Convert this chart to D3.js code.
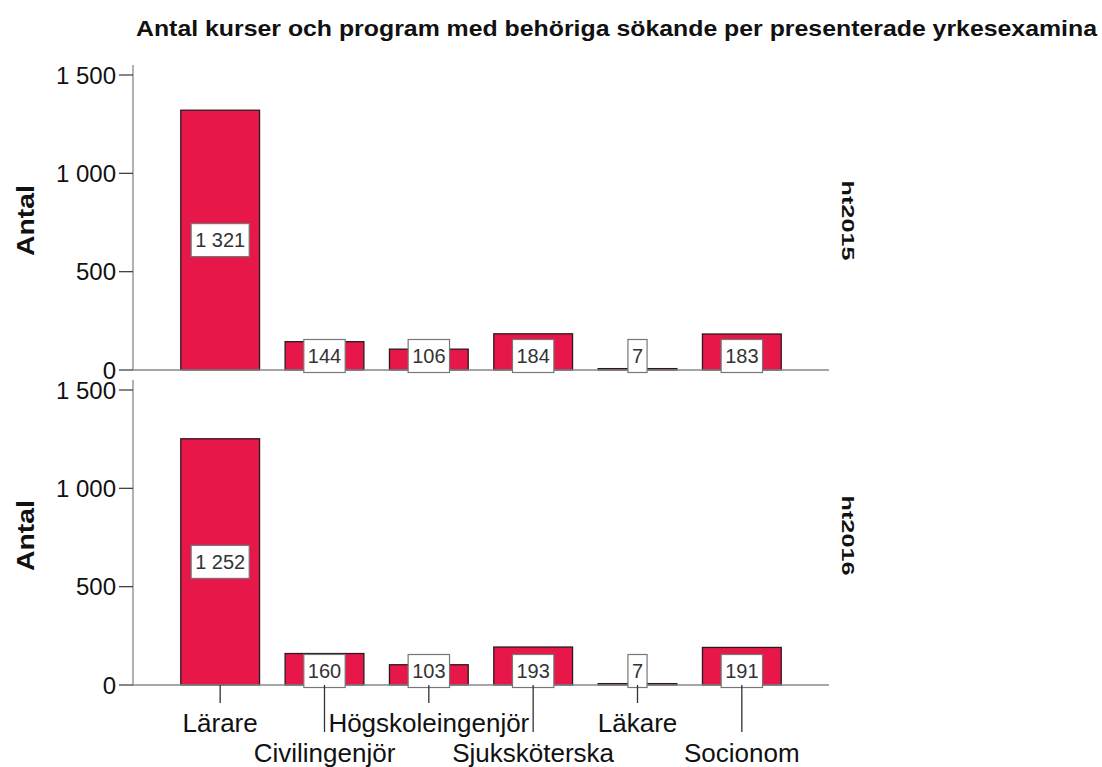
<!DOCTYPE html>
<html><head><meta charset="utf-8">
<script src="https://cdn.jsdelivr.net/npm/d3@7/dist/d3.min.js"></script>
<style>body{margin:0;background:#fff}svg{display:block;font-family:"Liberation Sans",Arial,sans-serif}</style>
</head><body><svg id="c" width="1102" height="767"></svg>
<script>
const titleText = "Antal kurser och program med behöriga sökande per presenterade yrkesexamina";
const categories = ["Lärare","Civilingenjör","Högskoleingenjör","Sjuksköterska","Läkare","Socionom"];
const panels = ["ht2015","ht2016"];
const values2015 = [1321,144,106,184,7,183];
const values2016 = [1252,160,103,193,7,191];
const yTicks = [0,500,1000,1500];
const yLabel = "Antal";

const seriesValues = [values2015, values2016];
const svg = d3.select("#c");
const loc = d3.formatLocale({decimal:",",thousands:" ",grouping:[3],currency:["","kr"]});
const fmt = loc.format(",d");

const left = 133, right = 829;
const x = d3.scaleBand().domain(categories).range([168,794]).paddingInner(0.245).paddingOuter(0.1225);
const panelTops = [75, 390], panelH = 295;

svg.append("text").attr("x",136).attr("y",36).attr("font-size",22).attr("font-weight","bold")
  .attr("fill","#111").attr("textLength",961).attr("lengthAdjust","spacingAndGlyphs").text(titleText);

panels.forEach((p,pi)=>{
  const y = d3.scaleLinear().domain([0,1500]).range([panelTops[pi]+panelH, panelTops[pi]]);
  const g = svg.append("g");
  const vals = seriesValues[pi];
  // bars
  g.selectAll("rect.bar").data(categories).join("rect")
    .attr("x",d=>x(d)).attr("width",x.bandwidth())
    .attr("y",(d,i)=>y(vals[i])).attr("height",(d,i)=>y(0)-y(vals[i]))
    .attr("fill","#e8174a").attr("stroke","#2a1a1e").attr("stroke-width",1.3);
  // y axis
  g.append("line").attr("x1",left).attr("x2",left).attr("y1",y(1500)-10).attr("y2",y(0))
    .attr("stroke","#888").attr("stroke-width",1.3);
  yTicks.forEach(t=>{
    g.append("line").attr("x1",left-14).attr("x2",left).attr("y1",y(t)).attr("y2",y(t)).attr("stroke","#444").attr("stroke-width",1.3);
    g.append("text").attr("x",left-17).attr("y",y(t)).attr("dy","0.36em").attr("text-anchor","end")
      .attr("font-size",24).attr("fill","#111").text(fmt(t));
  });
  // x baseline
  g.append("line").attr("x1",left).attr("x2",right).attr("y1",y(0)).attr("y2",y(0))
    .attr("stroke","#888").attr("stroke-width",1.3);
  // value labels
  categories.forEach((c,i)=>{
    const v = vals[i];
    const cx = x(c)+x.bandwidth()/2;
    const barH = y(0)-y(v);
    const cy = barH > 60 ? y(v/2) : y(0)-14;
    const lg = g.append("g");
    const t = lg.append("text").attr("x",cx).attr("y",cy).attr("dy","0.36em").attr("text-anchor","middle")
      .attr("font-size",20).attr("fill","#333").text(fmt(v));
    const w = t.node().getComputedTextLength()+8;
    lg.insert("rect","text").attr("x",cx-w/2).attr("y",cy-16.5).attr("width",w).attr("height",33)
      .attr("fill","#fff").attr("stroke","#777").attr("stroke-width",1.2);
  });
  // y label
  const cyP = y(760);
  svg.append("text").attr("transform",`translate(34,${cyP}) rotate(-90)`).attr("text-anchor","middle")
    .attr("font-size",23).attr("font-weight","bold").attr("fill","#111")
    .attr("textLength",71).attr("lengthAdjust","spacingAndGlyphs").text(yLabel);
  // panel label
  svg.append("text").attr("transform",`translate(842,${cyP}) rotate(90)`).attr("text-anchor","middle")
    .attr("font-size",17).attr("font-weight","bold").attr("fill","#111")
    .attr("textLength",80).attr("lengthAdjust","spacingAndGlyphs").text(p);
  // x ticks and labels for bottom panel
  if(pi===panels.length-1){
    categories.forEach((c,i)=>{
      const cx = x(c)+x.bandwidth()/2;
      const stag = i%2===1;
      g.append("line").attr("x1",cx).attr("x2",cx).attr("y1",y(0)).attr("y2",y(0)+(stag?47:18))
        .attr("stroke","#333").attr("stroke-width",1.3);
      g.append("text").attr("x",cx).attr("y",y(0)+(stag?77:47)).attr("text-anchor","middle")
        .attr("font-size",26).attr("fill","#111").text(c);
    });
  }
});
</script></body></html>
